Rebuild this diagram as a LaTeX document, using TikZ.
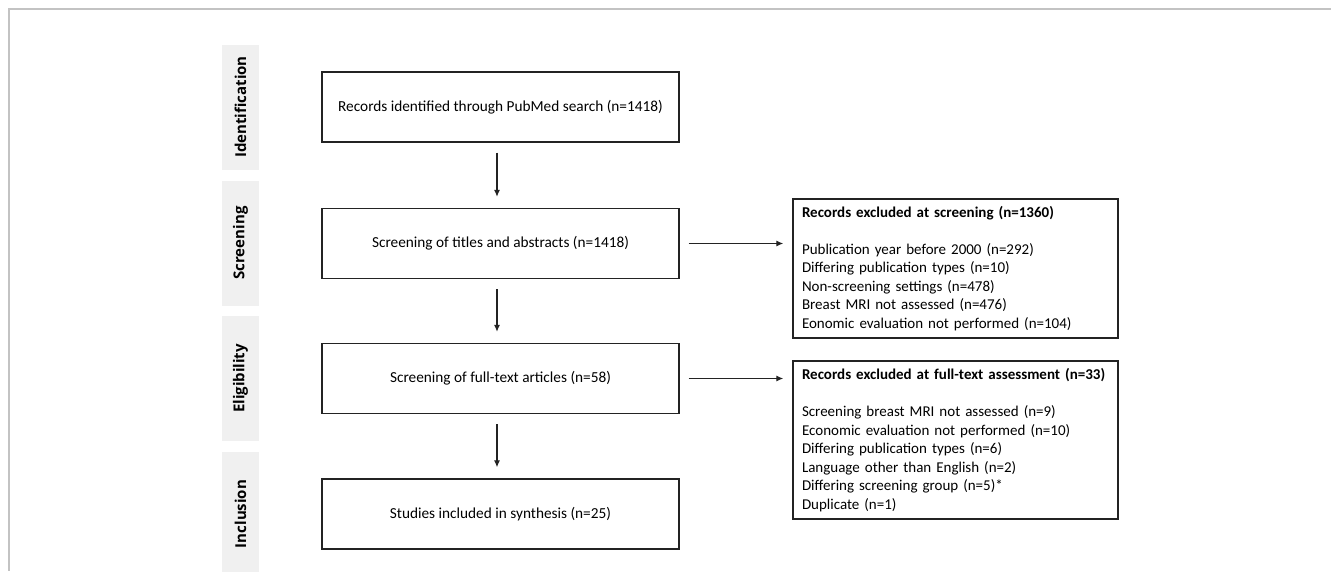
\documentclass[tikz,border=0pt]{standalone}
\usepackage{fontspec}
\setmainfont{Carlito}
\newfontfamily\phasefont{Open Sans}
\usepackage{tikz}
\usetikzlibrary{arrows, arrows.meta, positioning}
\definecolor{PhaseGray}{RGB}{240,240,240}
\definecolor{FrameGray}{RGB}{195,195,195}
\definecolor{BoxBlack}{RGB}{35,35,35}

\tikzset{
    phase/.style={fill=PhaseGray, rotate=90, minimum width=125pt, minimum height=37pt, inner sep=0pt,
        font=\phasefont\bfseries\fontsize{15}{17}\selectfont},
    stage/.style={draw=BoxBlack, line width=1.3pt, minimum width=357pt, minimum height=70pt,
        font=\fontsize{15.3}{18}\selectfont},
    excluded/.style={draw=BoxBlack, line width=1.3pt, text width=307pt, inner xsep=9pt, align=left,
        font=\fontsize{15}{18.5}\selectfont},
    flow/.style={-{Latex[length=7pt, width=6pt]}, line width=1.2pt, BoxBlack}
}

\begin{document}
\begin{tikzpicture}[x=1pt, y=-1pt]
    \useasboundingbox (0,0) rectangle (1331,571);
    \draw[FrameGray, line width=1.2pt] (1331,9) -- (9,9) -- (9,571);

    % phases
    \node[phase] (identification) at (240.5,107)   {Identification};
    \node[phase] (screening)      at (240.5,243)   {Screening};
    \node[phase] (eligibility)    at (240.5,378.5) {Eligibility};
    \node[phase] (inclusion)      at (240.5,514)   {Inclusion};

    % main flow
    \node[stage] (records)  at (500.5,107)   {Records identified through PubMed search (n=1418)};
    \node[stage] (titles)   at (500.5,243.5) {Screening of titles and abstracts (n=1418)};
    \node[stage] (fulltext) at (500.5,378.5) {Screening of full-text articles (n=58)};
    \node[stage] (included) at (500.5,514)   {Studies included in synthesis (n=25)};

    % exclusions
    \node[excluded, minimum height=139pt] (exclscreen) at (955.5,268.5) {\textbf{Records excluded at screening (n=1360)}\\[18.5pt]
        Publication year before 2000 (n=292)\\
        Differing publication types (n=10)\\
        Non-screening settings (n=478)\\
        Breast MRI not assessed (n=476)\\
        Eonomic evaluation not performed (n=104)};
    \node[excluded, minimum height=158pt] (exclfull) at (955.5,440) {\textbf{Records excluded at full-text assessment (n=33)}\\[18.5pt]
        Screening breast MRI not assessed (n=9)\\
        Economic evaluation not performed (n=10)\\
        Differing publication types (n=6)\\
        Language other than English (n=2)\\
        Differing screening group (n=5)*\\
        Duplicate (n=1)};

    \draw[flow, shorten <=10pt, shorten >=11pt] ([xshift=-3.5pt]records.south)  -- ([xshift=-3.5pt]titles.north);
    \draw[flow, shorten <=10pt, shorten >=11pt] ([xshift=-3.5pt]titles.south)   -- ([xshift=-3.5pt]fulltext.north);
    \draw[flow, shorten <=10pt, shorten >=11pt] ([xshift=-3.5pt]fulltext.south) -- ([xshift=-3.5pt]included.north);
    \draw[flow, shorten <=9pt, shorten >=9pt] (titles.east)   -- (titles.east -| exclscreen.west);
    \draw[flow, shorten <=9pt, shorten >=9pt] (fulltext.east) -- (fulltext.east -| exclfull.west);
\end{tikzpicture}
\end{document}
